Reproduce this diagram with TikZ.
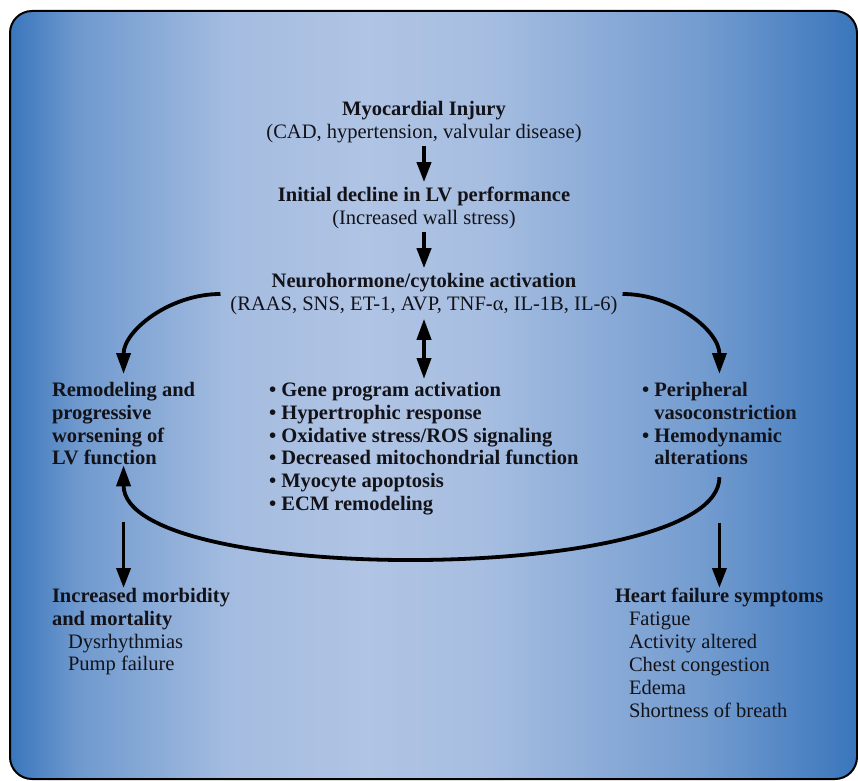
\documentclass[tikz,border=0pt]{standalone}
\usepackage{fontspec}
\setmainfont{Liberation Serif}
\usetikzlibrary{arrows.meta}
\usetikzlibrary{positioning}
\definecolor{paneledge}{RGB}{58,118,188}
\definecolor{panelmid}{RGB}{176,196,228}
\definecolor{ink}{RGB}{18,18,24}
\pgfdeclarehorizontalshading{panelfade}{100bp}{
    color(0bp)=(paneledge); color(25bp)=(paneledge);
    color(29bp)=(panelmid!45!paneledge);
    color(38bp)=(panelmid!90!paneledge);
    color(46bp)=(panelmid);
    color(53bp)=(panelmid!92!paneledge);
    color(66bp)=(panelmid!48!paneledge);
    color(75bp)=(paneledge); color(100bp)=(paneledge)}
\tikzset{
    txt/.style = {inner sep=0, outer sep=0, text=ink, font=\fontsize{20.6}{23}\selectfont},
    lst/.style = {txt, align=left, anchor=north west},
    blst/.style = {lst, font=\fontsize{20.6}{23}\selectfont\bfseries},
    flow/.style = {line width=3.8bp, -{Triangle[length=20bp,width=14bp]}},
    twoway/.style = {line width=3.8bp, {Triangle[length=21bp,width=14bp]}-{Triangle[length=21bp,width=14bp]}},
    loopflow/.style = {line width=3.8bp, -{Triangle[length=21bp,width=14bp]}}
}
\begin{document}
\begin{tikzpicture}[x=1bp,y=1bp]
    \newcommand\vsep{-86}
    \useasboundingbox (0,0) rectangle (858,-781);
    % Panel
    \draw[shade, shading=panelfade, line width=2bp, rounded corners=22bp]
        (10,-11) rectangle (857,-779);
    % Cascade
    \path (424,-122) node[txt, align=center] (injury)
            {\textbf{Myocardial Injury}\\(CAD, hypertension, valvular disease)}
        to +(0,1*\vsep) node[txt, align=center] (decline)
            {\textbf{Initial decline in LV performance}\\(Increased wall stress)}
        to +(0,2*\vsep) node[txt, align=center] (neuro)
            {\textbf{Neurohormone/cytokine activation}\\(RAAS, SNS, ET-1, AVP, TNF-α, IL-1B, IL-6)}
    ;
    % Responses
    \node[blst] (remodel) at (52,-382)
        {Remodeling and\\progressive\\worsening of\\LV function};
    \node[blst] (cellular) at (269,-382)
        {• Gene program activation\\• Hypertrophic response\\• Oxidative stress/ROS signaling\\%
         • Decreased mitochondrial function\\• Myocyte apoptosis\\• ECM remodeling};
    \node[blst] (vaso) at (642,-382)
        {• Peripheral\\\phantom{• }vasoconstriction\\• Hemodynamic\\\phantom{• }alterations};
    % Outcomes
    \node[lst] (morbid) at (52,-588)
        {\textbf{Increased morbidity}\\\textbf{and mortality}\\%
         \hspace*{16bp}Dysrhythmias\\\hspace*{16bp}Pump failure};
    \node[lst] (symptoms) at (615,-588)
        {\textbf{Heart failure symptoms}\\\hspace*{14bp}Fatigue\\\hspace*{14bp}Activity altered\\%
         \hspace*{14bp}Chest congestion\\\hspace*{14bp}Edema\\\hspace*{14bp}Shortness of breath};
    % Arrows
    \draw[flow, shorten <=3bp, shorten >=5bp] (injury) -- (decline);
    \draw[flow, shorten <=3bp, shorten >=5bp] (decline) -- (neuro);
    \draw[twoway, shorten <=4bp, shorten >=3bp] (neuro.south) -- (neuro.south |- cellular.north);
    \draw[loopflow, shorten >=8bp] ([xshift=-10bp]neuro.west) to[out=180, in=90] (remodel.north);
    \draw[loopflow, shorten >=8bp] ([xshift=5bp]neuro.east) to[out=0, in=90] (vaso.north);
    \draw[loopflow] ([yshift=-12bp]vaso.south)
        .. controls +(0,-108) and +(0,-122) .. (remodel.south);
    \draw[flow] ([yshift=-57bp]remodel.south) -- (remodel.south |- morbid.north);
    \draw[flow] ([yshift=-58bp]vaso.south) -- (vaso.south |- symptoms.north);
\end{tikzpicture}
\end{document}
